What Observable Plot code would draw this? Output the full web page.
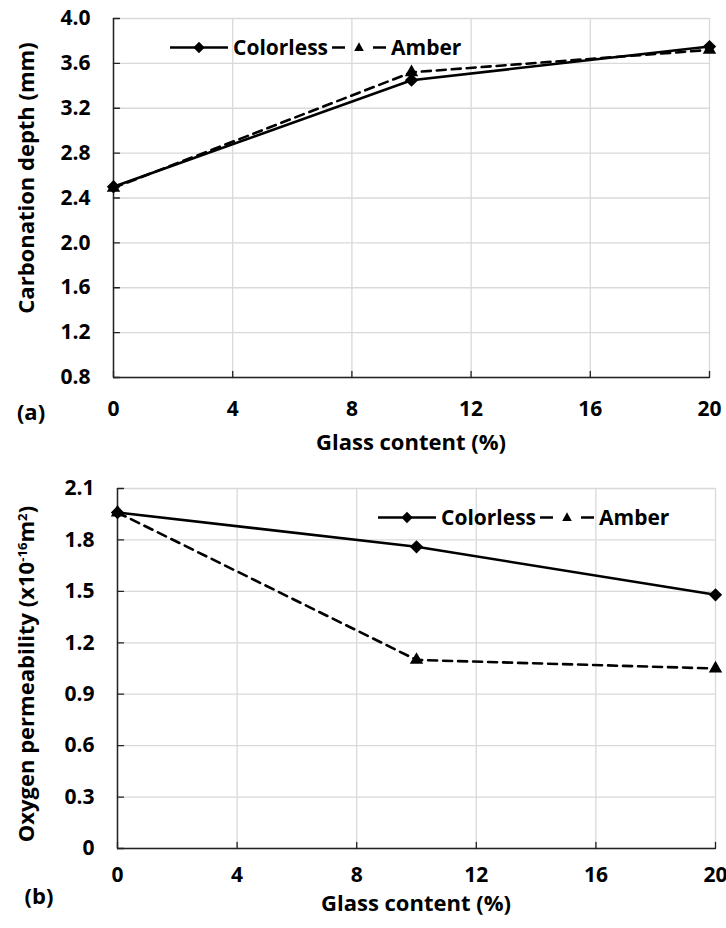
<!DOCTYPE html>
<html><head><meta charset="utf-8">
<script src="https://cdn.jsdelivr.net/npm/d3@7"></script>
<script src="https://cdn.jsdelivr.net/npm/@observablehq/plot@0.6"></script>
<style>
body{margin:0;background:#fff;}
#wrap{position:relative;width:726px;height:928px;overflow:hidden;font-family:"Open Sans",Lato,sans-serif;font-weight:bold;color:#000;}
.panel{position:absolute;left:0;}
.lbl{position:absolute;font-size:22px;font-weight:bold;white-space:nowrap;line-height:1;}
.ylbl{transform:translate(-50%,-50%) rotate(-90deg);}
.ctr{transform:translate(-50%,-50%);}
.legend{position:absolute;display:flex;align-items:center;font-size:21px;font-weight:bold;white-space:nowrap;transform:translateY(-50%);line-height:1;}
.legend svg{display:block;}
sup{font-size:0.6em;vertical-align:0;position:relative;top:-0.55em;}
</style></head><body>
<div id="wrap"></div>
<script>
// ---- data ----
const glassContent = [0, 10, 20];
const carbColorless = [2.50, 3.45, 3.75];
const carbAmber = [2.49, 3.52, 3.72];
const oxyColorless = [1.96, 1.76, 1.48];
const oxyAmber = [1.96, 1.10, 1.05];
const seriesNames = ["Colorless", "Amber"];
const xTicks = [0, 4, 8, 12, 16, 20];
const carbTicks = [0.8, 1.2, 1.6, 2.0, 2.4, 2.8, 3.2, 3.6, 4.0];
const oxyTicks = [0, 0.3, 0.6, 0.9, 1.2, 1.5, 1.8, 2.1];

const wrap = document.getElementById("wrap");
const tickShape = {draw(ctx, l) { ctx.moveTo(0, 0); ctx.lineTo(0, -l); }};

function rows(ys, name) { return glassContent.map((x, i) => ({x, y: ys[i], s: name})); }

function panel(cfg) {
  const colorless = rows(cfg.colorless, seriesNames[0]);
  const amber = rows(cfg.amber, seriesNames[1]);
  const yT = cfg.yTicks;
  return Plot.plot({
    width: 726,
    height: 464,
    marginTop: cfg.mt, marginBottom: cfg.mb, marginLeft: cfg.ml, marginRight: cfg.mr,
    style: {fontFamily: "'Open Sans', Lato, sans-serif", fontWeight: "bold", fontSize: "21px", color: "#000", background: "#fff", overflow: "visible"},
    x: {domain: [xTicks[0], xTicks[xTicks.length - 1]]},
    y: {domain: [yT[0], yT[yT.length - 1]]},
    marks: [
      Plot.gridX(xTicks, {stroke: "#d9d9d9", strokeOpacity: 1, strokeWidth: 1.3}),
      Plot.gridY(yT, {stroke: "#d9d9d9", strokeOpacity: 1, strokeWidth: 1.3}),
      Plot.ruleX([xTicks[0]], {stroke: "#222", strokeWidth: 1.5}),
      Plot.ruleY([yT[0]], {stroke: "#222", strokeWidth: 1.5}),
      Plot.vector(xTicks, {x: d => d, frameAnchor: "bottom", length: 6, rotate: 0, anchor: "start", shape: tickShape, stroke: "#222", strokeWidth: 1.3}),
      Plot.vector(yT, {y: d => d, frameAnchor: "left", length: 6, rotate: 90, anchor: "start", shape: tickShape, stroke: "#222", strokeWidth: 1.3}),
      Plot.axisX(xTicks, {tickSize: 0, tickPadding: cfg.xpad, label: null, fontSize: 21, fontWeight: "bold"}),
      Plot.axisY(yT, {tickSize: 0, tickPadding: 23, label: null, tickFormat: d => d === 0 ? "0" : d.toFixed(1), fontSize: 21, fontWeight: "bold"}),
      Plot.line(colorless, {x: "x", y: "y", stroke: "#000", strokeWidth: 2.6}),
      Plot.line(amber, {x: "x", y: "y", stroke: "#000", strokeWidth: 2.6, strokeDasharray: "9,6"}),
      Plot.dot(colorless, {x: "x", y: "y", symbol: "diamond2", r: 6, fill: "#000", stroke: "none"}),
      Plot.dot(amber, {x: "x", y: "y", symbol: "triangle", r: 5, fill: "#000", stroke: "none"})
    ]
  });
}

function addPanel(top, cfg) {
  const box = document.createElement("div");
  box.className = "panel";
  box.style.top = top + "px";
  box.appendChild(panel(cfg));
  wrap.appendChild(box);
}

function addLabel(html, x, y, cls) {
  const d = document.createElement("div");
  d.className = "lbl " + cls;
  d.style.left = x + "px";
  d.style.top = y + "px";
  d.innerHTML = html;
  wrap.appendChild(d);
}

function swatch(kind) {
  const ns = "http://www.w3.org/2000/svg";
  const svg = document.createElementNS(ns, "svg");
  svg.setAttribute("width", 58); svg.setAttribute("height", 16);
  const ln = document.createElementNS(ns, "path");
  ln.setAttribute("stroke", "#000"); ln.setAttribute("stroke-width", 2.6); ln.setAttribute("fill", "none");
  const mk = document.createElementNS(ns, "path");
  mk.setAttribute("fill", "#000");
  if (kind === 0) {
    ln.setAttribute("d", "M0,8H58");
    mk.setAttribute("d", "M29,2.3L34.7,8L29,13.7L23.3,8Z");
  } else {
    ln.setAttribute("d", "M2,8H15M43,8H56");
    mk.setAttribute("d", "M29,2.8L33.8,11.6H24.2Z");
  }
  svg.appendChild(ln); svg.appendChild(mk);
  return svg;
}

function addLegend(x, y) {
  const d = document.createElement("div");
  d.className = "legend";
  d.style.left = x + "px";
  d.style.top = y + "px";
  seriesNames.forEach((n, i) => {
    d.appendChild(swatch(i));
    const s = document.createElement("span");
    s.textContent = n;
    s.style.margin = i === 0 ? "0 2px 0 5px" : "0 0 0 3px";
    d.appendChild(s);
  });
  wrap.appendChild(d);
}

// panel (a)
addPanel(0, {colorless: carbColorless, amber: carbAmber, yTicks: carbTicks, mt: 18, mb: 87, ml: 113, mr: 17, xpad: 24});
// panel (b)
addPanel(464, {colorless: oxyColorless, amber: oxyAmber, yTicks: oxyTicks, mt: 24, mb: 80, ml: 117, mr: 11, xpad: 19});

addLabel("Carbonation depth (mm)", 25, 178, "ylbl");
addLabel("Glass content (%)", 411, 441, "ctr");
addLabel("(a)", 31, 411, "ctr");
addLabel("Oxygen permeability (x10<sup>-16</sup>m<sup>2</sup>)", 25, 674, "ylbl");
addLabel("Glass content (%)", 416, 902, "ctr");
addLabel("(b)", 39, 895, "ctr");

addLegend(170, 47);
addLegend(378, 517);
</script>
</body></html>
